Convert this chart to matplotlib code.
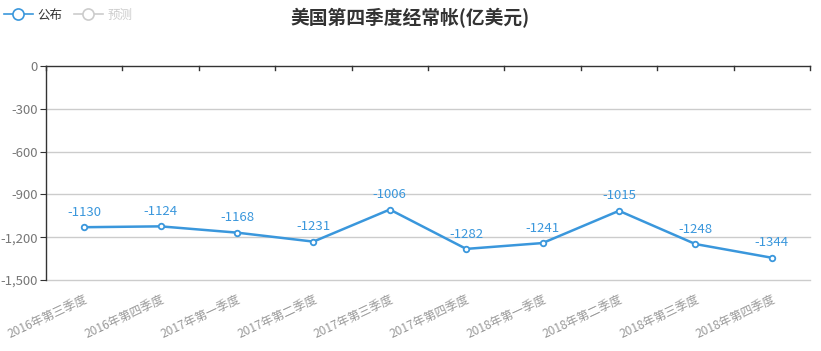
import matplotlib
matplotlib.use("Agg")
import matplotlib.pyplot as plt
from matplotlib.lines import Line2D
from matplotlib.ticker import FuncFormatter

plt.rcParams['font.family'] = ['Noto Sans CJK SC', 'DejaVu Sans']

categories = ["2016年第三季度", "2016年第四季度", "2017年第一季度", "2017年第二季度",
              "2017年第三季度", "2017年第四季度", "2018年第一季度", "2018年第二季度",
              "2018年第三季度", "2018年第四季度"]
values = [-1130, -1124, -1168, -1231, -1006, -1282, -1241, -1015, -1248, -1344]
yticks = [0, -300, -600, -900, -1200, -1500]
title = "美国第四季度经常帐(亿美元)"
legend_labels = ["公布", "预测"]

W, H = 821, 351
fig = plt.figure(figsize=(W / 100, H / 100), dpi=100)
left, right, top, bottom = 46, 810, 66, 280
ax = fig.add_axes([left / W, 1 - bottom / H, (right - left) / W, (bottom - top) / H])

blue = "#3a97dc"
n = len(categories)
x = list(range(n))
ax.plot(x, values, color=blue, lw=1.8, marker='o', ms=4, mfc='white', mec=blue, mew=1.3, zorder=3, clip_on=False)
for xi, v in zip(x, values):
    ax.annotate(str(v), (xi, v), xytext=(0, 6), textcoords='offset points', ha='center', va='bottom',
                color=blue, fontsize=9.5)

ax.set_xlim(-0.5, n - 0.5)
ax.set_ylim(-1500, 0)
ax.set_yticks(yticks)
ax.yaxis.set_major_formatter(FuncFormatter(lambda v, p: f"{int(v):,}"))
ax.tick_params(axis='y', length=4, color='#333333', labelcolor='#777777', labelsize=9.5, pad=2)
for t in yticks[1:]:
    ax.axhline(t, color='#cccccc', lw=1, zorder=0, clip_on=False)

ax.set_xticks(x)
ax.set_xticklabels(categories, rotation=25, ha='right', rotation_mode='anchor', color='#999999', fontsize=8.6)
ax.tick_params(axis='x', length=0, pad=9)
# boundary ticks on top line
for b in [i - 0.5 for i in range(n + 1)]:
    ax.plot([b, b], [0, -28], color='#333333', lw=1, clip_on=False, zorder=4)

for s in ['right', 'bottom']:
    ax.spines[s].set_visible(False)
ax.spines['left'].set_color('#333333')
ax.spines['top'].set_color('#333333')
ax.spines['left'].set_linewidth(1)
ax.spines['top'].set_linewidth(1)

fig.text(410 / W, 1 - 18 / H, title, ha='center', va='center', fontsize=13.5, fontweight='bold', color='#333333')

handles = [Line2D([], [], color=blue, lw=1.2, marker='o', ms=8, mfc='white', mec=blue, mew=1.2),
           Line2D([], [], color='#cccccc', lw=1.2, marker='o', ms=8, mfc='white', mec='#cccccc', mew=1.2)]
leg = fig.legend(handles, legend_labels, loc='center left', bbox_to_anchor=(4 / W, 1 - 15 / H), ncol=2,
                 frameon=False, fontsize=9, handlelength=2.3, handletextpad=0.4, columnspacing=0.9,
                 borderaxespad=0, borderpad=0.0)
leg.get_texts()[0].set_color('#333333')
leg.get_texts()[1].set_color('#cccccc')

fig.savefig("out.png", dpi=100)
